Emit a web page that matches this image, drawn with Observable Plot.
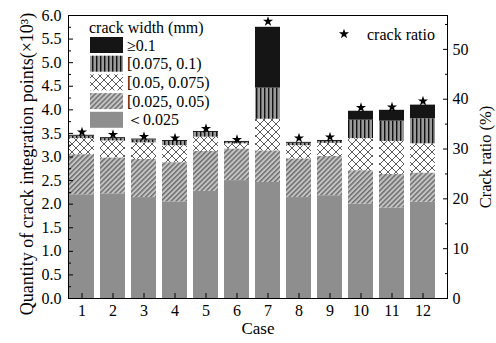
<!DOCTYPE html>
<html><head><meta charset="utf-8">
<script src="https://cdn.jsdelivr.net/npm/d3@7"></script>
<script src="https://cdn.jsdelivr.net/npm/@observablehq/plot@0.6"></script>
<style>
body{margin:0;background:#fff;}
#wrap{position:relative;width:496px;height:343px;font-family:"Liberation Serif","Times New Roman",serif;}
#wrap svg{position:absolute;left:0;top:0;overflow:visible;}
</style></head><body>
<div id="wrap"></div>
<script>
// ---- data (×10^3 crack integration points per crack-width class) ----
const cases = [1,2,3,4,5,6,7,8,9,10,11,12];
const lt0025   = [2.20,2.22,2.14,2.05,2.27,2.50,2.46,2.14,2.18,2.00,1.92,2.04];
const w0025_005 = [0.85,0.76,0.81,0.83,0.85,0.67,0.67,0.82,0.83,0.71,0.71,0.62];
const w005_0075 = [0.34,0.36,0.35,0.36,0.30,0.11,0.67,0.28,0.28,0.68,0.70,0.62];
const w0075_01  = [0.05,0.05,0.06,0.09,0.10,0.03,0.66,0.05,0.04,0.39,0.43,0.53];
const ge01      = [0.02,0.02,0.02,0.02,0.02,0.02,1.29,0.02,0.02,0.19,0.23,0.29];
const crackRatio = [33.4,32.9,32.5,32.2,34.1,31.9,55.6,32.2,32.4,38.3,38.4,39.6];
const classLabels = ["\uFF1C0.025","[0.025, 0.05)","[0.05, 0.075)","[0.075, 0.1)","\u22650.1"];
const leftTicks = [0,0.5,1,1.5,2,2.5,3,3.5,4,4.5,5,5.5,6];
const leftMinor = [0.25,0.75,1.25,1.75,2.25,2.75,3.25,3.75,4.25,4.75,5.25,5.75];
const rightTicks = [0,10,20,30,40,50];
const rightMinor = [5,15,25,35,45,55];

const FONT = '"Liberation Serif","Times New Roman",serif';
const series = [lt0025, w0025_005, w005_0075, w0075_01, ge01];
const patIds = ["pGray","pHatch","pCross","pVert","pBlack"];

// ---- pattern defs ----
const defsSvg = d3.select("body").append("svg").attr("width",0).attr("height",0).style("position","absolute");
const defs = defsSvg.append("defs");
let p = defs.append("pattern").attr("id","pGray").attr("patternUnits","userSpaceOnUse").attr("width",4).attr("height",4);
p.append("rect").attr("width",4).attr("height",4).attr("fill","#8e8e8e");
p = defs.append("pattern").attr("id","pHatch").attr("patternUnits","userSpaceOnUse").attr("width",3.5).attr("height",3.5).attr("patternTransform","rotate(45)");
p.append("rect").attr("width",3.5).attr("height",3.5).attr("fill","#c4c4c4");
p.append("rect").attr("width",1.5).attr("height",3.5).attr("fill","#6e6e6e");
p = defs.append("pattern").attr("id","pCross").attr("patternUnits","userSpaceOnUse").attr("width",8).attr("height",8);
p.append("rect").attr("width",8).attr("height",8).attr("fill","#ffffff");
p.append("path").attr("d","M0,0L8,8M8,0L0,8").attr("stroke","#333").attr("stroke-width",0.8);
p = defs.append("pattern").attr("id","pVert").attr("patternUnits","userSpaceOnUse").attr("width",4).attr("height",4);
p.append("rect").attr("width",4).attr("height",4).attr("fill","#9a9a9a");
p.append("rect").attr("width",1.4).attr("height",4).attr("fill","#111");
p = defs.append("pattern").attr("id","pBlack").attr("patternUnits","userSpaceOnUse").attr("width",4).attr("height",4);
p.append("rect").attr("width",4).attr("height",4).attr("fill","#151515");

// ---- stacked table ----
const stacked = series.map(() => []);
cases.forEach((c, j) => {
  let base = 0;
  series.forEach((s, i) => {
    stacked[i].push({case: c, y1: base, y2: base + s[j]});
    base += s[j];
  });
});

const common = {
  width: 496, height: 343, marginTop: 15, marginBottom: 45, marginLeft: 68, marginRight: 49,
  x: {type: "band", domain: cases, paddingInner: 0.195, paddingOuter: 0.2, align: 0.1},
  style: {fontFamily: FONT, fontSize: "16px", background: "transparent", color: "#000", overflow: "visible"}
};

const plot1 = Plot.plot({
  ...common,
  y: {domain: [0, 6]},
  marks: [
    ...stacked.map((rows, i) => Plot.barY(rows, {x: "case", y1: "y1", y2: "y2", fill: `url(#${patIds[i]})`})),
    Plot.axisY({ticks: leftTicks, tickFormat: d3.format(".1f"), tickSize: -5, tickPadding: 12, label: null, fontSize: 16}),
    Plot.axisY({ticks: leftMinor, tickSize: -3, text: null, label: null}),
    Plot.axisX({tickSize: -5, tickPadding: 11, label: null, fontSize: 16}),
    Plot.frame({stroke: "#000"}),
    Plot.text(["Quantity of crack integration points(\u00D710\u00B3)"], {text: d => d, frameAnchor: "left", textAnchor: "middle", rotate: -90, dx: -41, dy: 7, fontSize: 18}),
    Plot.text(["Case"], {text: d => d, frameAnchor: "bottom", textAnchor: "middle", dy: 35, fontSize: 17})
  ]
});

const ratioRows = cases.map((c, j) => ({case: c, ratio: crackRatio[j]}));
const plot2 = Plot.plot({
  ...common,
  x: {...common.x, axis: null},
  y: {domain: [0, 56.8]},
  marks: [
    Plot.dot(ratioRows, {x: "case", y: "ratio", symbol: "star", fill: "#000", r: 3.2}),
    Plot.axisY({anchor: "right", ticks: rightTicks, tickSize: -5, tickPadding: 10, label: null, fontSize: 16}),
    Plot.axisY({anchor: "right", ticks: rightMinor, tickSize: -3, text: null, label: null}),
    Plot.text(["Crack ratio (%)"], {text: d => d, frameAnchor: "right", textAnchor: "middle", rotate: -90, dx: 38, fontSize: 16.5})
  ]
});

const wrap = document.getElementById("wrap");
wrap.appendChild(plot1);
wrap.appendChild(plot2);

// ---- legend (inside plot area) ----
const leg = d3.select(wrap).append("svg").attr("width", 496).attr("height", 343)
  .style("font-family", FONT).style("pointer-events", "none");
leg.append("text").attr("x", 89).attr("y", 33).attr("font-size", 16).text("crack width (mm)");
const order = [4,3,2,1,0];
order.forEach((k, r) => {
  const top = 37 + r * 18.7;
  leg.append("rect").attr("x", 90).attr("y", top).attr("width", 33).attr("height", 16).attr("fill", `url(#${patIds[k]})`);
  leg.append("text").attr("x", 127).attr("y", top + 8).attr("dy", "0.35em").attr("font-size", 16).text(classLabels[k]);
});
leg.append("path").attr("transform", "translate(344,34)")
  .attr("d", d3.symbol(d3.symbolStar, Math.PI * 3.2 * 3.2)()).attr("fill", "#000");
leg.append("text").attr("x", 367).attr("y", 34).attr("dy", "0.35em").attr("font-size", 16).text("crack ratio");
</script>
</body></html>
